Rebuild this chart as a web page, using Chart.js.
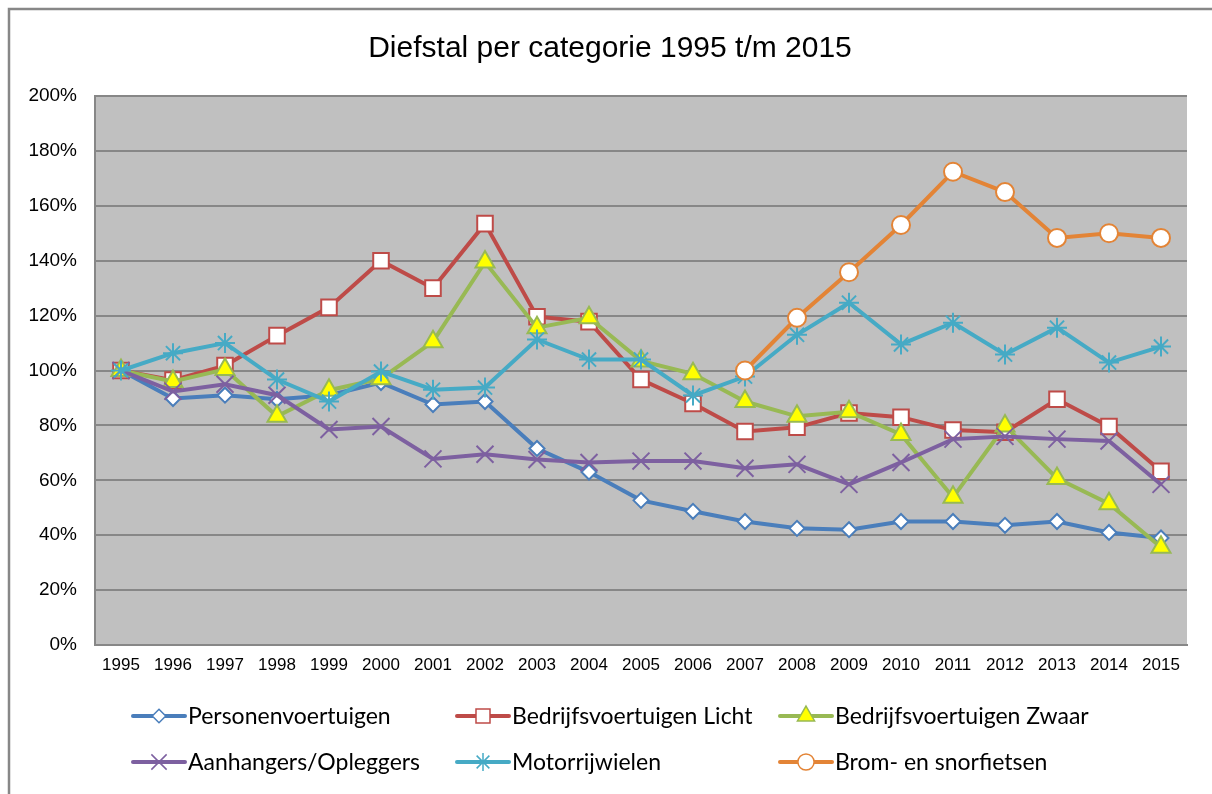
<!DOCTYPE html>
<html>
<head>
<meta charset="utf-8">
<title>Diefstal per categorie</title>
<script src="https://cdn.jsdelivr.net/npm/chart.js@4.4.1/dist/chart.umd.min.js"></script>
<style>
  html, body { margin: 0; padding: 0; background: #fff; }
  #wrap { position: relative; width: 1212px; height: 794px; }
</style>
</head>
<body>
<div id="wrap"><canvas id="chart"></canvas></div>
<script>
// Data (percentages relative to 1995)
const years = ['1995','1996','1997','1998','1999','2000','2001','2002','2003','2004','2005',
               '2006','2007','2008','2009','2010','2011','2012','2013','2014','2015'];
const personen   = [100, 89.8, 91, 89.5, 91, 95.6, 87.6, 88.7, 71.6, 63, 52.7, 48.7, 45, 42.5, 42, 45, 45, 43.6, 45, 41, 39];
const licht      = [100, 96.5, 101.8, 112.7, 123, 140, 130, 153.5, 119.6, 117.8, 96.7, 88, 77.8, 79.3, 84.5, 83, 78.3, 77.5, 89.5, 79.6, 63.3];
const zwaar      = [100, 96, 100.4, 83.3, 92.8, 97, 110.5, 139.5, 115.6, 119.2, 103.5, 98.8, 88.7, 83.3, 85, 76.7, 53.8, 79.8, 60.7, 51.5, 35.6];
const aanhangers = [100, 92.4, 95, 91, 78.5, 79.6, 67.8, 69.5, 67.6, 66.5, 67, 67, 64.4, 65.8, 58.5, 66.5, 75, 76, 75, 74.3, 58.5];
const motor      = [100, 106.3, 110, 96.7, 88.7, 99.6, 93, 93.8, 111.3, 104, 104, 90.9, 97.8, 113, 124.7, 109.5, 117.4, 105.8, 115.6, 102.9, 108.7];
const brom       = [null, null, null, null, null, null, null, null, null, null, null, null, 100, 119.2, 135.8, 153, 172.4, 165, 148.3, 150, 148.3];
const yTicks = [0, 20, 40, 60, 80, 100, 120, 140, 160, 180, 200];

const seriesNames = ['Personenvoertuigen', 'Bedrijfsvoertuigen Licht', 'Bedrijfsvoertuigen Zwaar',
                     'Aanhangers/Opleggers', 'Motorrijwielen', 'Brom- en snorfietsen'];

function series(label, data, color, style, radius, fill) {
  return {
    label: label,
    data: data,
    borderColor: color,
    backgroundColor: color,
    borderWidth: 4,
    tension: 0,
    spanGaps: false,
    pointStyle: style,
    pointRadius: radius,
    pointHoverRadius: radius,
    pointBackgroundColor: fill,
    pointBorderColor: color,
    pointBorderWidth: 2
  };
}

const datasets = [
  series(seriesNames[0], personen,   '#4A7EBB', 'rectRot',  7.5, '#FFFFFF'),
  series(seriesNames[1], licht,      '#BE4B48', 'rect',     11,  '#FFFFFF'),
  series(seriesNames[2], zwaar,      '#98B954', 'triangle', 11,  '#FFFF00'),
  series(seriesNames[3], aanhangers, '#7D60A0', 'crossRot', 12,  '#7D60A0'),
  series(seriesNames[4], motor,      '#46AAC5', 'star',     10,  '#46AAC5'),
  series(seriesNames[5], brom,       '#E38436', 'circle',   9,   '#FFFFFF')
];
// later series on top, like the original
datasets.forEach((d, i) => { d.order = datasets.length - i; });

// Plot area box and outer frame
const backgroundPlugin = {
  id: 'plotBackground',
  beforeDraw(chart) {
    const ctx = chart.ctx;
    const a = chart.chartArea;
    ctx.save();
    ctx.fillStyle = '#FFFFFF';
    ctx.fillRect(0, 0, chart.width, chart.height);
    ctx.fillStyle = '#C0C0C0';
    ctx.fillRect(a.left, a.top, a.right - a.left, a.bottom - a.top);
    // outer frame
    ctx.strokeStyle = '#878787';
    ctx.lineWidth = 2.5;
    ctx.beginPath();
    ctx.moveTo(9, chart.height + 5);
    ctx.lineTo(9, 9);
    ctx.lineTo(chart.width + 5, 9);
    ctx.stroke();
    ctx.restore();
  }
};

// Title and grid-style legend
const titleLegendPlugin = {
  id: 'titleLegend',
  afterDraw(chart) {
    const ctx = chart.ctx;
    ctx.save();
    ctx.fillStyle = '#000';
    ctx.font = '30px "Liberation Sans", Arial, sans-serif';
    ctx.textAlign = 'center';
    ctx.textBaseline = 'alphabetic';
    ctx.fillText('Diefstal per categorie 1995 t/m 2015', 610, 57);

    const colX = [133, 457, 780];
    const rowY = [716, 762];
    ctx.font = '23px Lato, "Open Sans", sans-serif';
    ctx.textAlign = 'left';
    ctx.textBaseline = 'middle';
    chart.data.datasets.forEach((ds, i) => {
      const x = colX[i % 3];
      const y = rowY[Math.floor(i / 3)];
      ctx.strokeStyle = ds.borderColor;
      ctx.lineWidth = 4;
      ctx.lineCap = 'round';
      ctx.beginPath();
      ctx.moveTo(x, y);
      ctx.lineTo(x + 52, y);
      ctx.stroke();
      ctx.lineCap = 'butt';
      ctx.fillStyle = ds.pointBackgroundColor;
      ctx.strokeStyle = ds.borderColor;
      ctx.lineWidth = 1.5;
      Chart.helpers.drawPoint(ctx, {
        pointStyle: ds.pointStyle,
        radius: ds.pointRadius * 0.9,
        borderWidth: 1.5,
        rotation: 0
      }, x + 26, y);
      ctx.fillStyle = '#000';
      ctx.fillText(ds.label, x + 55, y + 1);
    });
    ctx.restore();
  }
};

new Chart(document.getElementById('chart'), {
  type: 'line',
  data: { labels: years, datasets: datasets },
  options: {
    responsive: true,
    maintainAspectRatio: false,
    animation: false,
    layout: { padding: { left: 0, top: 96, right: 25, bottom: 0 } },
    plugins: {
      legend: { display: false },
      title: { display: false },
      tooltip: { enabled: false }
    },
    scales: {
      x: {
        offset: true,
        afterFit(s) { s.height = 149; },
        grid: { display: false, drawTicks: false },
        border: { display: true, color: '#878787', width: 2 },
        ticks: {
          color: '#000',
          padding: 10,
          maxRotation: 0,
          autoSkip: false,
          font: { family: '"Liberation Sans", Arial, sans-serif', size: 17 }
        }
      },
      y: {
        min: 0,
        max: 200,
        afterFit(s) { s.width = 95; },
        afterBuildTicks(s) { s.ticks = yTicks.map(v => ({ value: v })); },
        grid: { color: '#878787', lineWidth: 2, drawTicks: false },
        border: { display: true, color: '#878787', width: 2 },
        ticks: {
          color: '#000',
          padding: 18,
          callback: v => v + '%',
          font: { family: '"Liberation Sans", Arial, sans-serif', size: 19 }
        }
      }
    }
  },
  plugins: [backgroundPlugin, titleLegendPlugin]
});
</script>
</body>
</html>
